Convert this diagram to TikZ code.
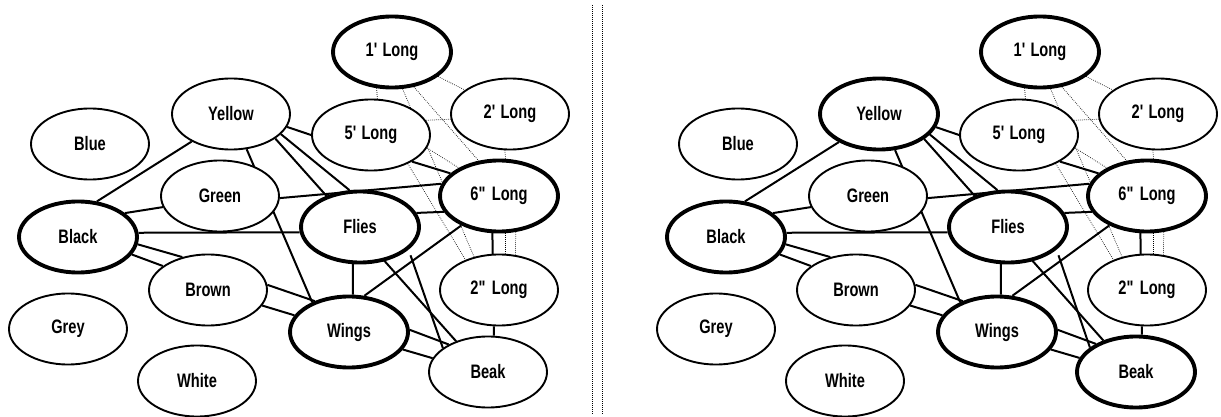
\documentclass[tikz,border=0pt]{standalone}
\usepackage{fontspec}
\setmainfont[FakeStretch = 0.75]{Liberation Sans}
\usetikzlibrary{positioning}
\usetikzlibrary{shapes.geometric}
\usetikzlibrary{backgrounds}

\begin{document}
\begin{tikzpicture}[x = 1pt, y = -1pt,
		plain/.style = {ellipse, draw, line width = 1.9pt, fill = white, minimum width = 118pt, minimum height = 71pt, inner sep = 0pt, font = \fontsize{19.5}{19.5}\selectfont\bfseries},
		bold/.style = {plain, line width = 3.9pt},
		link/.style = {line width = 2pt},
		weak/.style = {line width = 0.7pt, dash pattern = on 0.7pt off 1.3pt},
		rule/.style = {line width = 0.8pt, dash pattern = on 1pt off 1pt}]
	\useasboundingbox (0, 0) rectangle (1221, 417);
	% the same net twice: left with plain Yellow and Beak, right with bold ones
	\foreach \p/\sx/\st in {l/0/plain, r/648/bold} {
		\begin{scope}[xshift = \sx pt]
			\node [bold] (\p-onefoot) at (392, 52) {1\textquotesingle{} Long};
			\node [plain] (\p-twofoot) at (510, 114) {2\textquotesingle{} Long};
			\node [\st] (\p-yellow) at (231, 114) {Yellow};
			\node [plain] (\p-fivefoot) at (371, 135) {5\textquotesingle{} Long};
			\node [plain] (\p-blue) at (90, 144) {Blue};
			\node [plain] (\p-green) at (220, 196) {Green};
			\node [bold] (\p-sixin) at (499, 196) {6\textquotedbl{} Long};
			\node [bold] (\p-black) at (78, 237) {Black};
			\node [bold] (\p-flies) at (360, 227) {Flies};
			\node [plain] (\p-brown) at (208, 290) {Brown};
			\node [plain] (\p-twoin) at (499, 290) {2\textquotedbl{} Long};
			\node [plain] (\p-grey) at (68, 329) {Grey};
			\node [bold] (\p-wings) at (349, 332) {Wings};
			\node [plain] (\p-white) at (197, 381) {White};
			\node [\st] (\p-beak) at (488, 372) {Beak};
			\begin{pgfonlayer}{background}
				% solid links
				\draw [link] (\p-black.62) -- (\p-yellow.215);
				\draw [link] (\p-black.27) -- (\p-green.191);
				\draw [link] (\p-black.4) -- (\p-flies.185);
				\draw [link] (\p-black.-7) -- (\p-brown.128);
				\draw [link] (\p-black.-18) -- (\p-brown.152);
				\draw [link] (\p-yellow.-13) -- (\p-fivefoot.180);
				\draw [link] (\p-yellow.-66) -- (\p-wings.141);
				\draw [link] (\p-yellow.-22) -- (\p-flies.106);
				\draw [link] (\p-yellow.-29) -- (\p-beak.136);
				\draw [link] (\p-green.-2) -- (\p-sixin.168);
				\draw [link] (\p-brown.5) -- (\p-wings.138);
				\draw [link] (\p-brown.-16) -- (\p-wings.163);
				\draw [link] (\p-flies.14) -- (\p-sixin.196);
				\draw [link] (\p-flies.259) -- (\p-wings.84);
				\draw [link, shorten <= 6pt] (\p-flies.-25) -- (\p-beak.152);
				\draw [link] (\p-wings.67) -- (\p-sixin.218);
				\draw [link] (\p-wings.2) -- (\p-beak.145);
				\draw [link] (\p-wings.-18) -- (\p-beak.166);
				\draw [link] (\p-fivefoot.-33) -- (\p-sixin.155);
				\draw [link] (\p-sixin.260) -- (\p-twoin.100);
				\draw [link] (\p-twoin.262) -- (\p-beak.81);
				% dotted links
				\draw [weak] (\p-onefoot.247) -- (\p-fivefoot.80);
				\draw [weak] (\p-onefoot.-28) -- (\p-twofoot.152);
				\draw [weak] (\p-onefoot.-58) -- (\p-sixin.120);
				\draw [weak] (\p-onefoot.-74) -- (\p-twoin.127);
				\draw [weak] (\p-fivefoot.15) -- (\p-twofoot.185);
				\draw [weak] (\p-fivefoot.-13) -- (\p-sixin.145);
				\draw [weak] (\p-fivefoot.-38) -- (\p-twoin.138);
				\draw [weak] (\p-twofoot.262) -- (\p-sixin.80);
				\draw [weak] (\p-sixin.280) -- (\p-twoin.80);
				\draw [weak] (\p-sixin.295) -- (\p-twoin.65);
			\end{pgfonlayer}
		\end{scope}
	}
	\draw [rule] (592, 5) -- (592, 415);
	\draw [rule] (602, 5) -- (602, 415);
\end{tikzpicture}
\end{document}
